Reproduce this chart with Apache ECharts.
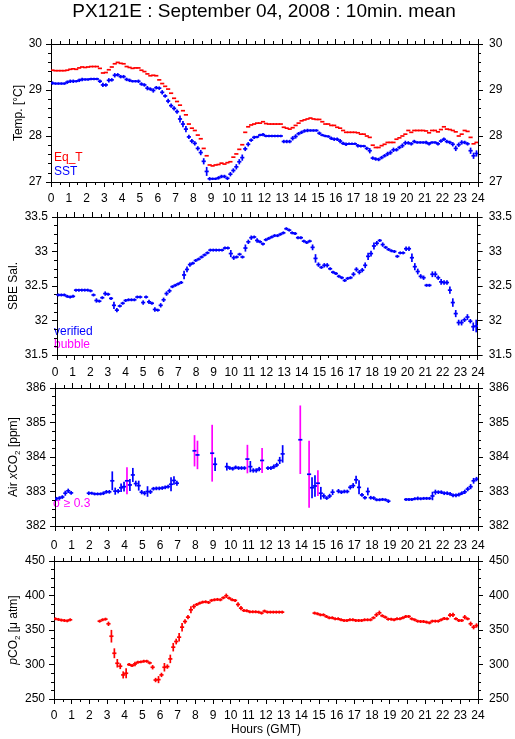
<!DOCTYPE html>
<html>
<head>
<meta charset="utf-8">
<script src="https://cdn.jsdelivr.net/npm/echarts@6/dist/echarts.min.js"></script>
<style>
html,body{margin:0;padding:0;background:#fff;}
#chart{width:515px;height:739px;}
</style>
</head>
<body>
<div id="chart"></div>
<script>
// ---------- DATA (10-minute means, slot i covers i*10 .. (i+1)*10 min GMT) ----------
const titleText = 'PX121E : September 04, 2008 : 10min. mean';
const hourTicks = [0,1,2,3,4,5,6,7,8,9,10,11,12,13,14,15,16,17,18,19,20,21,22,23,24];

const eqT = [
 29.43,29.42,29.42,29.42,29.42,29.43,
 29.45,29.46,29.45,29.48,29.50,29.49,
 29.50,29.51,29.51,29.51,29.47,29.37,
 29.38,29.44,29.50,29.57,29.60,29.58,
 29.57,29.51,29.49,29.47,29.48,29.48,
 29.43,29.40,29.35,29.31,29.32,29.31,
 29.22,29.14,29.08,29.02,28.93,28.82,
 28.75,28.67,28.55,28.46,28.26,28.17,
 28.12,28.02,27.94,27.73,27.57,27.37,
 27.35,27.37,27.38,27.41,27.39,27.42,
 27.44,27.54,27.61,27.71,27.81,28.08,
 28.20,28.24,28.26,28.28,28.28,28.31,
 28.27,28.26,28.26,28.26,28.26,28.26,
 28.19,28.17,28.15,28.18,28.23,28.28,
 28.33,28.35,28.37,28.39,28.37,28.36,
 28.36,28.31,28.26,28.26,28.23,28.23,
 28.19,28.17,28.12,28.08,28.08,28.08,
 28.08,28.07,28.04,28.04,28.00,27.97,
 27.80,27.75,27.75,27.79,27.82,27.86,
 27.86,27.86,27.93,27.96,28.00,28.04,
 28.12,28.08,28.12,28.12,28.12,28.12,
 28.11,28.07,28.12,28.12,28.09,28.14,
 28.20,28.15,28.14,28.12,28.09,28.00,
 28.04,28.12,28.10,27.97,27.83,27.86
];

const sst = [
 29.15,29.14,29.14,29.14,29.14,29.17,
 29.19,29.19,29.19,29.21,29.23,29.23,
 29.23,29.24,29.24,29.24,29.19,29.11,
 29.11,29.21,29.22,29.32,29.33,29.29,
 29.29,29.23,29.21,29.19,29.19,29.19,
 29.13,29.11,29.04,29.02,28.99,29.05,
 29.04,28.95,28.87,28.76,28.66,28.60,
 28.53,28.37,28.26,28.15,27.98,27.89,
 27.84,27.73,27.64,27.45,27.23,27.07,
 27.07,27.07,27.09,27.12,27.12,27.08,
 27.17,27.25,27.33,27.44,27.53,27.72,
 27.82,27.91,27.97,27.98,28.02,28.03,
 28.00,28.00,28.00,28.00,28.00,28.00,
 27.88,27.88,27.88,27.95,27.99,28.05,
 28.08,28.11,28.12,28.12,28.12,28.12,
 28.06,28.02,28.00,27.99,27.95,27.93,
 27.93,27.89,27.84,27.82,27.83,27.83,
 27.83,27.79,27.78,27.78,27.73,27.68,
 27.52,27.50,27.49,27.53,27.57,27.61,
 27.64,27.70,27.70,27.75,27.79,27.85,
 27.85,27.83,27.88,27.86,27.86,27.86,
 27.86,27.83,27.86,27.86,27.83,27.89,
 27.93,27.88,27.86,27.82,27.73,27.81,
 27.86,27.86,27.83,27.68,27.57,27.62
];
const sstSigma = [
 .02,.01,.01,.01,.01,.02, .02,.02,.01,.02,.02,.01, .01,.01,.01,.01,.02,.03,
 .02,.03,.02,.03,.02,.02, .02,.02,.02,.01,.01,.02, .02,.02,.03,.02,.03,.02,
 .02,.03,.02,.03,.03,.03, .03,.06,.05,.05,.03,.03, .03,.03,.04,.05,.08,.02,
 .01,.01,.02,.02,.02,.02, .03,.03,.04,.04,.05,.03, .03,.02,.02,.01,.01,.02,
 .01,.01,.01,.01,.01,.01, .02,.02,.02,.03,.03,.02, .02,.02,.02,.01,.01,.01,
 .02,.01,.01,.01,.02,.02, .02,.03,.02,.02,.01,.01, .01,.02,.01,.01,.02,.04,
 .02,.02,.02,.02,.02,.03, .03,.03,.02,.02,.03,.03, .02,.02,.02,.01,.01,.01,
 .02,.02,.01,.01,.02,.02, .02,.02,.02,.03,.04,.03, .03,.02,.02,.05,.05,.05
];

const sal = [
 32.37,32.37,32.37,32.35,32.34,32.35,
 32.44,32.44,32.44,32.44,32.44,32.43,
 32.37,32.29,32.28,32.33,32.39,32.38,
 32.32,32.22,32.15,32.21,32.25,32.29,
 32.30,32.30,32.30,32.34,32.34,32.26,
 32.34,32.27,32.25,32.16,32.15,32.22,
 32.30,32.39,32.43,32.49,32.51,32.53,
 32.55,32.66,32.74,32.81,32.83,32.87,
 32.89,32.92,32.95,32.98,33.02,33.02,
 33.02,33.02,33.02,33.05,33.05,32.97,
 32.91,32.92,32.96,32.92,33.05,33.14,
 33.20,33.21,33.16,33.14,33.11,33.17,
 33.19,33.21,33.23,33.23,33.25,33.27,
 33.33,33.31,33.27,33.26,33.20,33.20,
 33.15,33.13,33.15,33.06,32.90,32.81,
 32.77,32.80,32.80,32.75,32.70,32.68,
 32.64,32.62,32.58,32.61,32.62,32.67,
 32.74,32.70,32.73,32.80,32.93,32.97,
 33.08,33.12,33.16,33.10,33.06,33.03,
 33.01,33.00,32.93,32.98,32.98,33.04,
 33.04,32.91,32.78,32.71,32.64,32.62,
 32.51,32.51,32.67,32.67,32.62,32.56,
 32.55,32.55,32.44,32.26,32.10,31.97,
 31.97,32.01,32.05,31.99,31.91,31.92
];
const salSigma = [
 .01,.01,.01,.01,.01,.01, .01,.01,.01,.01,.01,.01, .01,.02,.01,.01,.02,.01,
 .01,.04,.02,.01,.01,.01, .01,.01,.01,.01,.01,.02, .01,.02,.01,.02,.01,.02,
 .02,.02,.02,.01,.01,.01, .01,.05,.03,.02,.01,.01, .01,.01,.01,.01,.01,.01,
 .01,.01,.01,.01,.01,.04, .02,.01,.01,.01,.04,.02, .02,.01,.02,.01,.01,.01,
 .01,.01,.01,.01,.01,.01, .01,.01,.01,.01,.01,.01, .01,.01,.01,.03,.05,.02,
 .01,.02,.02,.01,.01,.01, .01,.01,.01,.01,.01,.02, .02,.02,.02,.03,.04,.03,
 .04,.02,.01,.02,.01,.01, .01,.01,.01,.01,.01,.02, .02,.05,.04,.03,.02,.02,
 .01,.01,.03,.03,.02,.03, .02,.02,.04,.05,.04,.03, .03,.02,.03,.02,.05,.08
];

const n = null;
const xco2 = [
 382.79,382.81,382.84,382.95,383.02,382.96,
 n,n,n,n,n,382.95,
 382.95,382.93,382.93,382.93,382.95,382.99,
 382.99,383.31,383.01,383.01,383.11,383.14,
 383.31,383.19,383.48,383.23,383.17,382.98,
 382.95,383.00,382.99,383.08,383.09,383.09,
 383.10,383.12,383.14,383.21,383.32,383.24,
 n,n,n,n,n,384.18,
 384.06,n,n,n,n,384.11,
 383.79,n,n,n,383.72,383.68,
 383.66,383.70,383.68,383.68,383.68,383.94,
 383.72,383.61,383.61,383.65,383.90,n,
 383.68,383.68,383.72,383.77,383.90,384.09,
 n,n,n,n,n,384.50,
 n,n,383.50,383.11,383.16,383.24,
 382.95,382.87,382.81,382.87,382.98,n,
 383.01,382.98,383.00,383.00,383.12,383.17,
 383.34,383.12,382.90,382.82,383.00,382.82,
 382.81,382.76,382.76,382.77,382.76,382.72,
 n,n,n,n,n,382.77,
 382.77,382.77,382.79,382.80,382.79,382.80,
 382.80,382.80,382.87,382.98,382.98,382.98,
 382.95,382.95,382.93,382.89,382.89,382.91,
 382.95,382.99,383.07,383.14,383.31,383.36
];
const xco2Sigma = [
 .03,.03,.03,.05,.04,.03, 0,0,0,0,0,.03, .02,.02,.02,.02,.03,.03,
 .03,.25,.08,.04,.10,.12, .37,.15,.18,.06,.12,.04, .04,.13,.04,.03,.03,.03,
 .03,.03,.03,.18,.10,.05, 0,0,0,0,0,.43, .39,0,0,0,0,.80,
 .17,0,0,0,.09,.03, .03,.03,.03,.03,.03,.39, .14,.04,.04,.04,.34,0,
 .03,.03,.04,.04,.08,.23, 0,0,0,0,0,.97, 0,0,.95,.28,.29,.35,
 .16,.05,.03,.04,.06,0, .04,.03,.03,.03,.04,.05, .09,.18,.03,.03,.09,.03,
 .03,.02,.02,.02,.02,.03, 0,0,0,0,0,.02, .02,.02,.02,.03,.02,.02,
 .02,.02,.10,.05,.03,.03, .03,.03,.03,.03,.03,.03, .03,.04,.04,.05,.06,.04
];

const pco2 = [
 366.2,365.3,364.3,363.8,363.3,364.8,
 n,n,n,n,n,n,
 n,n,n,362.8,364.8,365.7,
 359.0,341.0,316.3,301.8,297.5,284.9,
 287.3,299.9,298.4,300.8,303.2,303.8,
 304.7,304.7,302.3,296.0,277.5,278.1,
 284.9,296.0,297.0,308.1,325.1,333.3,
 339.6,354.1,362.3,368.6,379.3,384.1,
 387.0,388.9,390.4,390.9,389.9,392.9,
 393.8,394.3,393.8,396.7,399.6,396.2,
 393.8,392.9,387.0,381.7,378.3,377.8,
 376.4,376.4,376.4,375.9,374.5,377.4,
 375.9,375.9,375.9,375.9,375.9,375.9,
 n,n,n,n,n,n,
 n,n,n,n,374.5,373.5,
 372.0,372.0,369.6,367.7,367.7,366.2,
 366.2,364.8,363.8,363.8,364.8,364.8,
 363.8,363.8,363.8,364.8,364.8,364.8,
 367.7,372.0,374.9,370.6,368.6,365.7,
 365.7,364.8,366.2,366.2,367.7,369.6,
 369.6,366.2,364.8,362.8,362.3,362.3,
 361.4,360.4,362.8,362.8,362.8,364.8,
 366.7,366.2,371.5,372.0,366.2,363.8,
 363.8,368.6,366.2,359.0,354.1,356.5
];
const pco2Sigma = [
 1,1,1,1,1,1, 0,0,0,0,0,0, 0,0,0,1,1,1,
 2,8,6,5,3,4, 6,1,1,2,1,1, 1,1,1,2,2,4,
 2,5,2,5,5,3, 5,5,2,2,4,2, 1,1,1,1,1,1,
 1,1,1,1,2,1, 1,1,2,2,1,1, 1,1,1,1,1,1,
 1,1,1,1,1,1, 0,0,0,0,0,0, 0,0,0,0,1,1,
 1,1,1,1,1,1, 1,1,1,1,1,1, 1,1,1,1,1,1,
 1,2,2,1,1,1, 1,1,1,1,1,1, 1,1,1,1,1,1,
 1,1,1,1,1,1, 1,1,2,2,1,1, 1,2,1,2,2,2
];

const sigmaFlag = 0.3;   // xCO2 points with sigma >= 0.3 get a magenta error bar

// ---------- STYLE ----------
const FONT = "'Liberation Sans', Arial, Helvetica, sans-serif";
const RED = '#ff0000', BLUE = '#0000ff', MAG = '#ff00ff';
const gridTops = [44, 217, 388, 561];
const GL = 51, GW = 427, GH = 138;

function toPoints(vals, sig) {
  const out = [];
  vals.forEach((v, i) => { if (v !== null) out.push([(i + 0.5) / 6, v, sig ? sig[i] : 0]); });
  return out;
}

function crossRenderer(color, flagColor) {
  return function (params, api) {
    const t = api.value(0), v = api.value(1), s = api.value(2);
    const vc = (flagColor && s >= sigmaFlag) ? flagColor : color;
    const a = api.coord([t - 1/12, v]), b = api.coord([t + 1/12, v]);
    const children = [];
    if (s > 0) {
      const p = api.coord([t, v + s]), q = api.coord([t, v - s]);
      children.push({type: 'line', shape: {x1: p[0], y1: p[1] - 0.8, x2: q[0], y2: q[1] + 0.8},
        style: {stroke: vc, lineWidth: 1.7}});
    }
    children.push({
      type: 'line', shape: {x1: a[0] - 0.6, y1: a[1], x2: b[0] + 0.6, y2: b[1]},
      style: {stroke: color, lineWidth: 1.7}
    });
    return {type: 'group', children};
  };
}

function xAx(g, position, showLabel) {
  return {
    type: 'value', gridIndex: g, position, min: 0, max: 24, interval: 1,
    axisLine: {show: true, onZero: false, lineStyle: {color: '#000', width: 1}},
    axisTick: {show: true, inside: false, length: 5, lineStyle: {color: '#000'}},
    minorTick: {show: true, splitNumber: 2, length: 3, lineStyle: {color: '#000'}},
    splitLine: {show: false}, minorSplitLine: {show: false},
    axisLabel: {show: showLabel, color: '#000', fontSize: 12, fontFamily: FONT,
      margin: position === 'bottom' ? 11 : 9,
      formatter: v => String(hourTicks[v] !== undefined ? hourTicks[v] : v)}
  };
}
function yAx(g, position, min, max, interval, minorSplit, name, nameGap, rich) {
  const a = {
    type: 'value', gridIndex: g, position, min, max, interval,
    axisLine: {show: true, onZero: false, lineStyle: {color: '#000', width: 1}},
    axisTick: {show: true, inside: false, length: 5, lineStyle: {color: '#000'}},
    minorTick: {show: true, splitNumber: minorSplit, length: 3, lineStyle: {color: '#000'}},
    splitLine: {show: false}, minorSplitLine: {show: false},
    axisLabel: {show: true, color: '#000', fontSize: 12, fontFamily: FONT, margin: position === 'left' ? 9 : 11}
  };
  if (name) {
    a.name = name; a.nameLocation = 'middle'; a.nameGap = nameGap; a.nameRotate = 90;
    a.nameMoveOverlap = false;
    a.nameTextStyle = {color: '#000', fontSize: 12, fontFamily: FONT, rich: rich || {}};
  }
  return a;
}

const subRich = {
  i: {fontStyle: 'italic', fontSize: 12, fontFamily: FONT, color: '#000', lineHeight: 16},
  n: {fontSize: 12, fontFamily: FONT, color: '#000', lineHeight: 16},
  sub: {fontSize: 8, fontFamily: FONT, color: '#000', lineHeight: 8, verticalAlign: 'bottom'}
};

const option = {
  animation: false,
  backgroundColor: '#fff',
  textStyle: {fontFamily: FONT},
  grid: gridTops.map(t => ({left: GL, top: t, width: GW, height: GH, containLabel: false})),
  xAxis: [
    xAx(0, 'bottom', true), xAx(0, 'top', false),
    xAx(1, 'bottom', false), xAx(1, 'top', false),
    xAx(2, 'bottom', false), xAx(2, 'top', true),
    Object.assign(xAx(3, 'bottom', true), {name: 'Hours (GMT)', nameLocation: 'middle', nameGap: 25,
      nameMoveOverlap: false, nameTextStyle: {color: '#000', fontSize: 12, fontFamily: FONT}}),
    xAx(3, 'top', true)
  ],
  yAxis: [
    yAx(0, 'left', 27, 30, 1, 5, 'Temp. [°C]', 26),
    yAx(0, 'right', 27, 30, 1, 5),
    yAx(1, 'left', 31.5, 33.5, 0.5, 4, 'SBE Sal.', 37),
    yAx(1, 'right', 31.5, 33.5, 0.5, 4),
    yAx(2, 'left', 382, 386, 1, 4, '{n|Air }{i|x}{n|CO}{sub|2}{n| [ppm]}', 33, subRich),
    yAx(2, 'right', 382, 386, 1, 4),
    yAx(3, 'left', 250, 450, 50, 4, '{i|p}{n|CO}{sub|2}{n| [μ atm]}', 32, subRich),
    yAx(3, 'right', 250, 450, 50, 4)
  ],
  graphic: [
    {type: 'text', x: 264, y: 12, style: {text: titleText, fill: '#000', font: '19px ' + FONT, textAlign: 'center', textVerticalAlign: 'middle'}},
    {type: 'text', x: 54, y: 158, style: {text: 'Eq_T', fill: RED, font: '12px ' + FONT, textVerticalAlign: 'middle'}},
    {type: 'text', x: 54, y: 172, style: {text: 'SST', fill: BLUE, font: '12px ' + FONT, textVerticalAlign: 'middle'}},
    {type: 'text', x: 54, y: 332, style: {text: 'verified', fill: BLUE, font: '12px ' + FONT, textVerticalAlign: 'middle'}},
    {type: 'text', x: 54, y: 345, style: {text: 'bubble', fill: MAG, font: '12px ' + FONT, textVerticalAlign: 'middle'}},
    {type: 'text', x: 53, y: 504, style: {text: 'σ ≥ 0.3', fill: MAG, font: '12px ' + FONT, textVerticalAlign: 'middle'}}
  ],
  series: [
    {name: 'Eq_T', type: 'custom', xAxisIndex: 0, yAxisIndex: 0, clip: true, renderItem: crossRenderer(RED), data: toPoints(eqT, null)},
    {name: 'SST', type: 'custom', xAxisIndex: 0, yAxisIndex: 0, clip: true, renderItem: crossRenderer(BLUE), data: toPoints(sst, sstSigma)},
    {name: 'SBE Sal.', type: 'custom', xAxisIndex: 2, yAxisIndex: 2, clip: true, renderItem: crossRenderer(BLUE), data: toPoints(sal, salSigma)},
    {name: 'Air xCO2', type: 'custom', xAxisIndex: 4, yAxisIndex: 4, clip: true, renderItem: crossRenderer(BLUE, MAG), data: toPoints(xco2, xco2Sigma)},
    {name: 'pCO2', type: 'custom', xAxisIndex: 6, yAxisIndex: 6, clip: true, renderItem: crossRenderer(RED), data: toPoints(pco2, pco2Sigma)}
  ]
};

const chart = echarts.init(document.getElementById('chart'), null, {renderer: 'canvas'});
chart.setOption(option);
</script>
</body>
</html>
